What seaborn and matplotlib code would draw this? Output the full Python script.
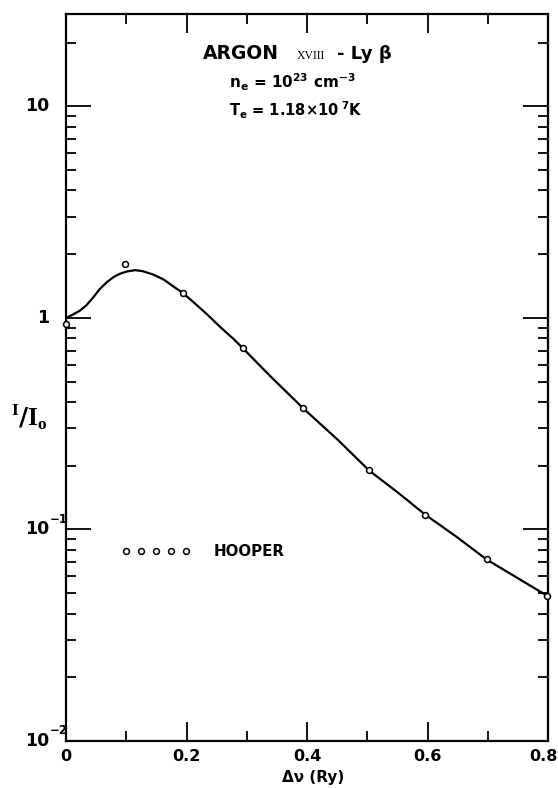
import matplotlib
matplotlib.use("Agg")
import matplotlib.pyplot as plt
import matplotlib.transforms as mtransforms
from matplotlib.lines import Line2D
from matplotlib.ticker import FixedLocator, LogLocator, NullFormatter
import seaborn as sns
import pandas as pd

# Calculated line profile I/I0 versus detuning (Rydberg units)
profile_dnu = [0.0, 0.012, 0.023, 0.034, 0.045, 0.056, 0.068, 0.079, 0.090,
               0.101, 0.115, 0.128, 0.145, 0.162, 0.178, 0.194, 0.211,
               0.234, 0.256, 0.278, 0.293, 0.340, 0.394, 0.450, 0.503, 0.550,
               0.596, 0.650, 0.698, 0.750, 0.800]
profile_int = [1.00, 1.038, 1.081, 1.148, 1.247, 1.368, 1.476, 1.560, 1.618,
               1.656, 1.681, 1.660, 1.601, 1.518, 1.409, 1.31, 1.19,
               1.04, 0.905, 0.795, 0.721, 0.527, 0.373, 0.267, 0.190, 0.150,
               0.1176, 0.0915, 0.0721, 0.0588, 0.0483]

# Hooper's values
hooper_dnu = [0.0, 0.098, 0.194, 0.293, 0.394, 0.503, 0.596, 0.698, 0.798]
hooper_int = [0.937, 1.80, 1.31, 0.721, 0.373, 0.190, 0.1176, 0.0721, 0.0483]

x_major = [0.0, 0.2, 0.4, 0.6, 0.8]
x_major_labels = ["0", "0.2", "0.4", "0.6", "0.8"]
x_minor = [0.1, 0.3, 0.5, 0.7]
y_major = [0.01, 0.1, 1, 10]
y_major_base = ["10", "10", "1", "10"]
y_major_exp = ["−2", "−1", "", ""]

sns.set_theme(style="ticks")
plt.rcParams.update({
    "font.family": ["DejaVu Sans"],
    "font.weight": "bold",
    "mathtext.fontset": "custom",
    "mathtext.rm": "DejaVu Sans:bold",
    "mathtext.it": "DejaVu Sans:bold",
    "mathtext.bf": "DejaVu Sans:bold",
    "mathtext.sf": "Liberation Serif",
    "axes.edgecolor": "black",
    "axes.linewidth": 1.6,
    "text.color": "black",
    "axes.labelcolor": "black",
    "xtick.color": "black",
    "ytick.color": "black",
    "xtick.labelcolor": "black",
    "ytick.labelcolor": "black",
})

profile = pd.DataFrame({"dnu": profile_dnu, "ratio": profile_int})
hooper = pd.DataFrame({"dnu": hooper_dnu, "ratio": hooper_int})

fig = plt.figure(figsize=(5.58, 7.88), dpi=100)
ax = fig.add_axes([66 / 558, 47 / 788, 482 / 558, 727 / 788])

sns.lineplot(data=profile, x="dnu", y="ratio", ax=ax, color="black",
             linewidth=1.6, sort=False, zorder=2)
sns.scatterplot(data=hooper, x="dnu", y="ratio", ax=ax, marker="o",
                s=18, facecolor="white", edgecolor="black", linewidth=1.1,
                zorder=3, clip_on=False)

ax.set_yscale("log")
ax.set_xlim(0, 0.8)
ax.set_ylim(0.01, 27.3)

ax.xaxis.set_major_locator(FixedLocator(x_major))
ax.xaxis.set_minor_locator(FixedLocator(x_minor))
ax.set_xticklabels(x_major_labels)
ax.yaxis.set_major_locator(FixedLocator(y_major))
ax.yaxis.set_minor_locator(LogLocator(base=10, subs=range(2, 10)))
ax.yaxis.set_minor_formatter(NullFormatter())
ax.set_yticklabels([])

ax.tick_params(axis="both", which="both", direction="in", color="black",
               labelcolor="black", top=True, right=True, width=1.3)
ax.tick_params(axis="x", which="major", length=14, pad=6, labelsize=11.5)
ax.tick_params(axis="x", which="minor", length=7.5)
ax.tick_params(axis="y", which="major", length=18)
ax.tick_params(axis="y", which="minor", length=7.5)
xlabels = ax.get_xticklabels()
for lab in xlabels:
    lab.set_fontweight("bold")
# keep the last x label inside the figure edge
xlabels[-1].set_transform(xlabels[-1].get_transform() +
                          mtransforms.ScaledTranslation(-0.05, 0, fig.dpi_scale_trans))

# y tick labels: base number right-aligned beside the axis, exponent hanging
for val, base, expo in zip(y_major, y_major_base, y_major_exp):
    ax.annotate(base, xy=(0, val), xycoords=("axes fraction", "data"),
                xytext=(-17, 0), textcoords="offset pixels",
                ha="right", va="center", fontsize=12.5, fontweight="bold",
                color="black")
    if expo:
        ax.annotate(expo, xy=(0, val), xycoords=("axes fraction", "data"),
                    xytext=(-16, 10), textcoords="offset pixels",
                    ha="left", va="center", fontsize=8.5, fontweight="bold",
                    color="black")

for side in ["left", "right", "top", "bottom"]:
    ax.spines[side].set_visible(True)
    ax.spines[side].set_color("black")
    ax.spines[side].set_linewidth(1.6)

ax.set_xlabel("Δν (Ry)", fontsize=11, fontweight="bold", color="black")
ax.xaxis.set_label_coords(0.513, -0.0405)
ax.set_ylabel(r"$^{\mathsf{I}}/\mathsf{I}_{\mathsf{o}}$", fontsize=18,
              rotation=0, fontweight="normal", color="black")
ax.yaxis.set_label_coords(-0.075, 0.425)

# Heading block
ax.text(0.284, 0.9377, "ARGON", transform=ax.transAxes, ha="left",
        va="baseline", fontsize=13.5, fontweight="bold", color="black")
ax.text(0.479, 0.9377, "XVIII", transform=ax.transAxes, ha="left",
        va="baseline", fontsize=8.5, family="Liberation Serif",
        fontweight="normal", color="black")
ax.text(0.563, 0.9377, "- Ly β", transform=ax.transAxes, ha="left",
        va="baseline", fontsize=13, fontweight="bold", color="black")
ax.text(0.338, 0.8978, r"n$_{e}$ = 10$^{23}$ cm$^{-3}$", transform=ax.transAxes,
        ha="left", va="baseline", fontsize=11, fontweight="bold", color="black")
ax.text(0.338, 0.8587, r"T$_{e}$ = 1.18×10$^{\ 7}$K", transform=ax.transAxes,
        ha="left", va="baseline", fontsize=10.5, fontweight="bold", color="black")

handle = Line2D([], [], marker="o", linestyle="none", markersize=4.2,
                markerfacecolor="white", markeredgecolor="black",
                markeredgewidth=1.1)
leg = ax.legend([handle], ["HOOPER"], loc="center left",
                bbox_to_anchor=(0.1155, 0.26), numpoints=5, handlelength=4.6,
                handletextpad=1.5, frameon=False, borderpad=0, borderaxespad=0,
                prop={"weight": "bold", "size": 10.8}, labelcolor="black")

fig.savefig("out.png", dpi=100)
